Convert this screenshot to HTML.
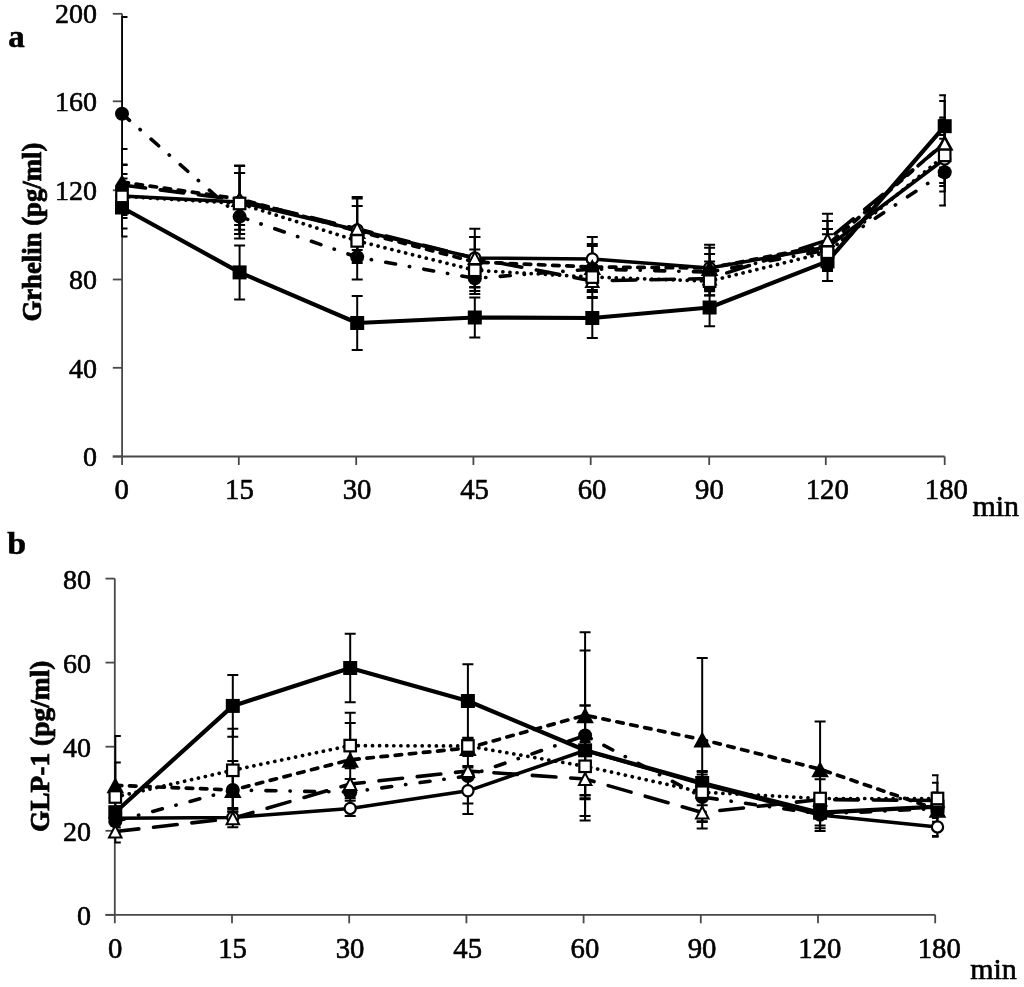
<!DOCTYPE html>
<html lang="en"><head><meta charset="utf-8"><title>Ghrelin and GLP-1 time course</title>
<style>html,body{margin:0;padding:0;background:#fff}body{width:1024px;height:987px;overflow:hidden}svg{display:block;filter:blur(0.45px)}.t{font-family:"Liberation Serif", "Times New Roman", serif;font-size:28px;fill:#000;stroke:#000;stroke-width:0.6px}.b{font-family:"Liberation Serif", "Times New Roman", serif;font-size:28px;font-weight:bold;fill:#000;stroke:#000;stroke-width:0.75px}.p{font-family:"Liberation Serif", "Times New Roman", serif;font-size:32px;font-weight:bold;fill:#000;stroke:#000;stroke-width:0.55px}</style></head><body>
<svg width="1024" height="987" viewBox="0 0 1024 987">
<rect width="1024" height="987" fill="#fff"/>
<path d="M122.1 13.7V465.0" stroke="#484848" stroke-width="1.8" fill="none"/>
<path d="M112.8 456.5H944.7" stroke="#484848" stroke-width="1.8" fill="none"/>
<path d="M238.8 456.5v8.5" stroke="#484848" stroke-width="1.8" fill="none"/>
<path d="M356.2 456.5v8.5" stroke="#484848" stroke-width="1.8" fill="none"/>
<path d="M473.4 456.5v8.5" stroke="#484848" stroke-width="1.8" fill="none"/>
<path d="M590.7 456.5v8.5" stroke="#484848" stroke-width="1.8" fill="none"/>
<path d="M709.2 456.5v8.5" stroke="#484848" stroke-width="1.8" fill="none"/>
<path d="M825.8 456.5v8.5" stroke="#484848" stroke-width="1.8" fill="none"/>
<path d="M944.7 456.5v8.5" stroke="#484848" stroke-width="1.8" fill="none"/>
<path d="M112.8 456.5H122.1" stroke="#484848" stroke-width="1.8" fill="none"/>
<text transform="translate(97.0 466.2) scale(1.0 1.0)" text-anchor="end" class="t">0</text>
<path d="M112.8 367.8H122.1" stroke="#484848" stroke-width="1.8" fill="none"/>
<text transform="translate(97.0 377.5) scale(1.0 1.0)" text-anchor="end" class="t">40</text>
<path d="M112.8 279.5H122.1" stroke="#484848" stroke-width="1.8" fill="none"/>
<text transform="translate(97.0 289.2) scale(1.0 1.0)" text-anchor="end" class="t">80</text>
<path d="M112.8 190.3H122.1" stroke="#484848" stroke-width="1.8" fill="none"/>
<text transform="translate(97.0 200.0) scale(1.0 1.0)" text-anchor="end" class="t">120</text>
<path d="M112.8 101.3H122.1" stroke="#484848" stroke-width="1.8" fill="none"/>
<text transform="translate(97.0 111.0) scale(1.0 1.0)" text-anchor="end" class="t">160</text>
<path d="M112.8 13.8H122.1" stroke="#484848" stroke-width="1.8" fill="none"/>
<text transform="translate(97.0 22.7) scale(1.0 1.0)" text-anchor="end" class="t">200</text>
<text transform="translate(121.8 499.1) scale(1.027 1.08)" text-anchor="middle" class="t">0</text>
<text transform="translate(239.4 499.1) scale(1.027 1.08)" text-anchor="middle" class="t">15</text>
<text transform="translate(357.0 499.1) scale(1.027 1.08)" text-anchor="middle" class="t">30</text>
<text transform="translate(474.6 499.1) scale(1.027 1.08)" text-anchor="middle" class="t">45</text>
<text transform="translate(592.1 499.1) scale(1.027 1.08)" text-anchor="middle" class="t">60</text>
<text transform="translate(709.4 499.1) scale(1.027 1.08)" text-anchor="middle" class="t">90</text>
<text transform="translate(827.3 499.1) scale(1.027 1.08)" text-anchor="middle" class="t">120</text>
<text transform="translate(946.4 499.1) scale(1.027 1.08)" text-anchor="middle" class="t">180</text>
<clipPath id="ca"><rect x="121.3" y="0" width="824.7" height="470"/></clipPath>
<g clip-path="url(#ca)" stroke="#000" stroke-width="2" fill="none">
<path d="M122.0 174.0V218.0M116.5 174.0h11M116.5 218.0h11"/>
<path d="M239.6 165.5V238.5M234.1 165.5h11M234.1 238.5h11"/>
<path d="M357.2 197.0V263.0M351.7 197.0h11M351.7 263.0h11"/>
<path d="M474.8 237.0V279.0M469.3 237.0h11M469.3 279.0h11"/>
<path d="M592.3 236.9V280.9M586.8 236.9h11M586.8 280.9h11"/>
<path d="M709.6 244.7V291.3M704.1 244.7h11M704.1 291.3h11"/>
<path d="M827.5 229.0V265.0M822.0 229.0h11M822.0 265.0h11"/>
<path d="M944.7 135.0V183.0M939.2 135.0h11M939.2 183.0h11"/>
<path d="M122.0 178.5V236.5M116.5 178.5h11M116.5 236.5h11"/>
<path d="M239.6 245.4V299.4M234.1 245.4h11M234.1 299.4h11"/>
<path d="M357.2 296.0V350.0M351.7 296.0h11M351.7 350.0h11"/>
<path d="M474.8 297.5V337.5M469.3 297.5h11M469.3 337.5h11"/>
<path d="M592.3 298.0V338.0M586.8 298.0h11M586.8 338.0h11"/>
<path d="M709.6 288.8V326.2M704.1 288.8h11M704.1 326.2h11"/>
<path d="M827.5 241.8V281.0M822.0 241.8h11M822.0 281.0h11"/>
<path d="M944.7 95.2V157.2M939.2 95.2h11M939.2 157.2h11"/>
<path d="M122.0 17.0V210.4M116.5 17.0h11M116.5 210.4h11"/>
<path d="M239.6 203.4V229.8M234.1 203.4h11M234.1 229.8h11"/>
<path d="M357.2 234.8V279.4M351.7 234.8h11M351.7 279.4h11"/>
<path d="M474.8 262.8V294.0M469.3 262.8h11M469.3 294.0h11"/>
<path d="M592.3 246.0V292.0M586.8 246.0h11M586.8 292.0h11"/>
<path d="M709.6 254.0V290.0M704.1 254.0h11M704.1 290.0h11"/>
<path d="M827.5 229.0V271.0M822.0 229.0h11M822.0 271.0h11"/>
<path d="M944.7 138.8V205.6M939.2 138.8h11M939.2 205.6h11"/>
<path d="M122.0 149.0V215.0M116.5 149.0h11M116.5 215.0h11"/>
<path d="M239.6 173.0V225.0M234.1 173.0h11M234.1 225.0h11"/>
<path d="M357.2 206.0V256.0M351.7 206.0h11M351.7 256.0h11"/>
<path d="M474.8 237.0V287.0M469.3 237.0h11M469.3 287.0h11"/>
<path d="M592.3 244.0V290.0M586.8 244.0h11M586.8 290.0h11"/>
<path d="M709.6 247.7V288.3M704.1 247.7h11M704.1 288.3h11"/>
<path d="M827.5 221.0V269.0M822.0 221.0h11M822.0 269.0h11"/>
<path d="M944.7 117.5V167.5M939.2 117.5h11M939.2 167.5h11"/>
<path d="M122.0 165.0V205.0M116.5 165.0h11M116.5 205.0h11"/>
<path d="M239.6 166.0V234.0M234.1 166.0h11M234.1 234.0h11"/>
<path d="M357.2 198.4V259.2M351.7 198.4h11M351.7 259.2h11"/>
<path d="M474.8 228.8V287.4M469.3 228.8h11M469.3 287.4h11"/>
<path d="M592.3 265.0V297.0M586.8 265.0h11M586.8 297.0h11"/>
<path d="M709.6 261.6V295.4M704.1 261.6h11M704.1 295.4h11"/>
<path d="M827.5 213.7V266.3M822.0 213.7h11M822.0 266.3h11"/>
<path d="M944.7 100.9V186.1M939.2 100.9h11M939.2 186.1h11"/>
<path d="M122.0 164.4V228.4M116.5 164.4h11M116.5 228.4h11"/>
<path d="M239.6 173.0V234.0M234.1 173.0h11M234.1 234.0h11"/>
<path d="M357.2 231.9V249.9M351.7 231.9h11M351.7 249.9h11"/>
<path d="M474.8 249.6V291.0M469.3 249.6h11M469.3 291.0h11"/>
<path d="M592.3 262.1V292.1M586.8 262.1h11M586.8 292.1h11"/>
<path d="M709.6 267.2V295.2M704.1 267.2h11M704.1 295.2h11"/>
<path d="M827.5 234.2V270.2M822.0 234.2h11M822.0 270.2h11"/>
<path d="M944.7 119.4V191.4M939.2 119.4h11M939.2 191.4h11"/>
</g>
<polyline points="122.0,196.0 239.6,202.0 357.2,230.0 474.8,258.0 592.3,258.9 709.6,268.0 827.5,247.0 944.7,159.0" fill="none" stroke="#000" stroke-width="3.5" stroke-linejoin="round" stroke-linecap="round"/>
<polyline points="122.0,207.5 239.6,272.4 357.2,323.0 474.8,317.5 592.3,318.0 709.6,307.5 827.5,261.4 944.7,126.2" fill="none" stroke="#000" stroke-width="4.2" stroke-linejoin="round" stroke-linecap="round"/>
<polyline points="122.0,113.7 239.6,216.6 357.2,257.1 474.8,278.4 592.3,269.0 709.6,272.0 827.5,250.0 944.7,172.2" fill="none" stroke="#000" stroke-width="3.6" stroke-linejoin="round" stroke-linecap="round" stroke-dasharray="10 14 0.3 14.4"/>
<polyline points="122.0,182.0 239.6,199.0 357.2,231.0 474.8,262.0 592.3,267.0 709.6,268.0 827.5,245.0 944.7,142.5" fill="none" stroke="#000" stroke-width="3.7" stroke-linejoin="round" stroke-linecap="round" stroke-dasharray="6.5 7.7"/>
<polyline points="122.0,185.0 239.6,200.0 357.2,228.8 474.8,258.1 592.3,281.0 709.6,278.5 827.5,240.0 944.7,143.5" fill="none" stroke="#000" stroke-width="3.6" stroke-linejoin="round" stroke-linecap="round" stroke-dasharray="23.7 14.8"/>
<polyline points="122.0,196.4 239.6,203.5 357.2,240.9 474.8,270.3 592.3,277.1 709.6,281.2 827.5,252.2 944.7,155.4" fill="none" stroke="#000" stroke-width="3.7" stroke-linejoin="round" stroke-linecap="round" stroke-dasharray="0.1 7.0"/>
<circle cx="122.0" cy="196.0" r="5.6" fill="#fff" stroke="#000" stroke-width="2.2"/>
<circle cx="239.6" cy="202.0" r="5.6" fill="#fff" stroke="#000" stroke-width="2.2"/>
<circle cx="357.2" cy="230.0" r="5.6" fill="#fff" stroke="#000" stroke-width="2.2"/>
<circle cx="474.8" cy="258.0" r="5.6" fill="#fff" stroke="#000" stroke-width="2.2"/>
<circle cx="592.3" cy="258.9" r="5.6" fill="#fff" stroke="#000" stroke-width="2.2"/>
<circle cx="709.6" cy="268.0" r="5.6" fill="#fff" stroke="#000" stroke-width="2.2"/>
<circle cx="827.5" cy="247.0" r="5.6" fill="#fff" stroke="#000" stroke-width="2.2"/>
<circle cx="944.7" cy="159.0" r="5.6" fill="#fff" stroke="#000" stroke-width="2.2"/>
<rect x="115.0" y="200.5" width="14" height="14" fill="#000"/>
<rect x="232.6" y="265.4" width="14" height="14" fill="#000"/>
<rect x="350.2" y="316.0" width="14" height="14" fill="#000"/>
<rect x="467.8" y="310.5" width="14" height="14" fill="#000"/>
<rect x="585.3" y="311.0" width="14" height="14" fill="#000"/>
<rect x="702.6" y="300.5" width="14" height="14" fill="#000"/>
<rect x="820.5" y="254.4" width="14" height="14" fill="#000"/>
<rect x="937.7" y="119.2" width="14" height="14" fill="#000"/>
<circle cx="122.0" cy="113.7" r="7" fill="#000"/>
<circle cx="239.6" cy="216.6" r="7" fill="#000"/>
<circle cx="357.2" cy="257.1" r="7" fill="#000"/>
<circle cx="474.8" cy="278.4" r="7" fill="#000"/>
<circle cx="592.3" cy="269.0" r="7" fill="#000"/>
<circle cx="709.6" cy="272.0" r="7" fill="#000"/>
<circle cx="827.5" cy="250.0" r="7" fill="#000"/>
<circle cx="944.7" cy="172.2" r="7" fill="#000"/>
<polygon points="239.6,191.0 248.4,207.0 230.8,207.0" fill="#000"/>
<polygon points="357.2,223.0 366.0,239.0 348.4,239.0" fill="#000"/>
<polygon points="474.8,254.0 483.6,270.0 466.0,270.0" fill="#000"/>
<polygon points="592.3,259.0 601.1,275.0 583.5,275.0" fill="#000"/>
<polygon points="709.6,260.0 718.4,276.0 700.8,276.0" fill="#000"/>
<polygon points="827.5,237.0 836.3,253.0 818.7,253.0" fill="#000"/>
<polygon points="944.7,134.5 953.5,150.5 935.9,150.5" fill="#000"/>
<polygon points="239.6,194.0 245.8,206.0 233.3,206.0" fill="#fff" stroke="#000" stroke-width="2" stroke-linejoin="miter"/>
<polygon points="357.2,222.8 363.4,234.8 350.9,234.8" fill="#fff" stroke="#000" stroke-width="2" stroke-linejoin="miter"/>
<polygon points="474.8,252.1 481.1,264.1 468.6,264.1" fill="#fff" stroke="#000" stroke-width="2" stroke-linejoin="miter"/>
<polygon points="592.3,275.0 598.5,287.0 586.0,287.0" fill="#fff" stroke="#000" stroke-width="2" stroke-linejoin="miter"/>
<polygon points="709.6,272.5 715.9,284.5 703.4,284.5" fill="#fff" stroke="#000" stroke-width="2" stroke-linejoin="miter"/>
<polygon points="827.5,234.0 833.8,246.0 821.2,246.0" fill="#fff" stroke="#000" stroke-width="2" stroke-linejoin="miter"/>
<polygon points="944.7,137.5 951.0,149.5 938.5,149.5" fill="#fff" stroke="#000" stroke-width="2" stroke-linejoin="miter"/>
<rect x="116.25" y="190.65" width="11.5" height="11.5" fill="#fff" stroke="#000" stroke-width="2.2"/>
<rect x="233.85" y="197.75" width="11.5" height="11.5" fill="#fff" stroke="#000" stroke-width="2.2"/>
<rect x="351.45" y="235.15" width="11.5" height="11.5" fill="#fff" stroke="#000" stroke-width="2.2"/>
<rect x="469.05" y="264.55" width="11.5" height="11.5" fill="#fff" stroke="#000" stroke-width="2.2"/>
<rect x="586.55" y="271.35" width="11.5" height="11.5" fill="#fff" stroke="#000" stroke-width="2.2"/>
<rect x="703.85" y="275.45" width="11.5" height="11.5" fill="#fff" stroke="#000" stroke-width="2.2"/>
<rect x="821.75" y="246.45" width="11.5" height="11.5" fill="#fff" stroke="#000" stroke-width="2.2"/>
<rect x="938.95" y="149.65" width="11.5" height="11.5" fill="#fff" stroke="#000" stroke-width="2.2"/>
<polygon points="122,174.4 128.9,185.4 128.9,190 115.1,190 115.1,185.4" fill="#000"/>
<text transform="translate(8.3 46.8) scale(1.03 1.0)" text-anchor="start" class="p">a</text>
<text transform="translate(41.3 232.1) rotate(-90) scale(0.955 0.99)" text-anchor="middle" class="b">Grhelin (pg/ml)</text>
<text transform="translate(972.5 515.8) scale(1.07 1.065)" text-anchor="start" class="t">min</text>
<path d="M114.8 578.6V923.3" stroke="#484848" stroke-width="1.8" fill="none"/>
<path d="M105.5 914.8H935.2" stroke="#484848" stroke-width="1.8" fill="none"/>
<path d="M232.0 914.8v8.5" stroke="#484848" stroke-width="1.8" fill="none"/>
<path d="M349.2 914.8v8.5" stroke="#484848" stroke-width="1.8" fill="none"/>
<path d="M466.4 914.8v8.5" stroke="#484848" stroke-width="1.8" fill="none"/>
<path d="M583.6 914.8v8.5" stroke="#484848" stroke-width="1.8" fill="none"/>
<path d="M700.8 914.8v8.5" stroke="#484848" stroke-width="1.8" fill="none"/>
<path d="M818.0 914.8v8.5" stroke="#484848" stroke-width="1.8" fill="none"/>
<path d="M935.2 914.8v8.5" stroke="#484848" stroke-width="1.8" fill="none"/>
<path d="M105.5 914.8H114.8" stroke="#484848" stroke-width="1.8" fill="none"/>
<text transform="translate(91.0 925.2) scale(1.0 1.0)" text-anchor="end" class="t">0</text>
<path d="M105.5 830.8H114.8" stroke="#484848" stroke-width="1.8" fill="none"/>
<text transform="translate(91.0 841.1) scale(1.0 1.0)" text-anchor="end" class="t">20</text>
<path d="M105.5 746.7H114.8" stroke="#484848" stroke-width="1.8" fill="none"/>
<text transform="translate(91.0 757.1) scale(1.0 1.0)" text-anchor="end" class="t">40</text>
<path d="M105.5 662.6H114.8" stroke="#484848" stroke-width="1.8" fill="none"/>
<text transform="translate(91.0 673.0) scale(1.0 1.0)" text-anchor="end" class="t">60</text>
<path d="M105.5 578.6H114.8" stroke="#484848" stroke-width="1.8" fill="none"/>
<text transform="translate(91.0 589.0) scale(1.0 1.0)" text-anchor="end" class="t">80</text>
<text transform="translate(115.1 957.6) scale(1.027 1.08)" text-anchor="middle" class="t">0</text>
<text transform="translate(232.6 957.6) scale(1.027 1.08)" text-anchor="middle" class="t">15</text>
<text transform="translate(350.0 957.6) scale(1.027 1.08)" text-anchor="middle" class="t">30</text>
<text transform="translate(467.7 957.6) scale(1.027 1.08)" text-anchor="middle" class="t">45</text>
<text transform="translate(584.9 957.6) scale(1.027 1.08)" text-anchor="middle" class="t">60</text>
<text transform="translate(702.0 957.6) scale(1.027 1.08)" text-anchor="middle" class="t">90</text>
<text transform="translate(819.9 957.6) scale(1.027 1.08)" text-anchor="middle" class="t">120</text>
<text transform="translate(939.2 957.6) scale(1.027 1.08)" text-anchor="middle" class="t">180</text>
<clipPath id="cb"><rect x="114.3" y="560" width="824.3000000000001" height="370"/></clipPath>
<g clip-path="url(#cb)" stroke="#000" stroke-width="2" fill="none">
<path d="M115.3 813.3V823.3M109.8 813.3h11M109.8 823.3h11"/>
<path d="M232.8 811.5V823.5M227.3 811.5h11M227.3 823.5h11"/>
<path d="M350.2 800.7V816.1M344.7 800.7h11M344.7 816.1h11"/>
<path d="M467.9 767.5V814.1M462.4 767.5h11M462.4 814.1h11"/>
<path d="M585.1 705.5V795.5M579.6 705.5h11M579.6 795.5h11"/>
<path d="M702.2 774.4V793.6M696.7 774.4h11M696.7 793.6h11"/>
<path d="M820.1 801.7V828.3M814.6 801.7h11M814.6 828.3h11"/>
<path d="M937.5 817.9V835.9M932.0 817.9h11M932.0 835.9h11"/>
<path d="M115.3 806.2V818.2M109.8 806.2h11M109.8 818.2h11"/>
<path d="M232.8 675.1V736.7M227.3 675.1h11M227.3 736.7h11"/>
<path d="M350.2 633.7V702.3M344.7 633.7h11M344.7 702.3h11"/>
<path d="M467.9 664.2V737.8M462.4 664.2h11M462.4 737.8h11"/>
<path d="M585.1 705.5V795.1M579.6 705.5h11M579.6 795.1h11"/>
<path d="M702.2 771.0V795.0M696.7 771.0h11M696.7 795.0h11"/>
<path d="M820.1 799.9V825.5M814.6 799.9h11M814.6 825.5h11"/>
<path d="M937.5 798.6V814.6M932.0 798.6h11M932.0 814.6h11"/>
<path d="M115.3 815.4V827.4M109.8 815.4h11M109.8 827.4h11"/>
<path d="M232.8 772.0V808.0M227.3 772.0h11M227.3 808.0h11"/>
<path d="M350.2 786.2V798.2M344.7 786.2h11M344.7 798.2h11"/>
<path d="M467.9 748.6V803.4M462.4 748.6h11M462.4 803.4h11"/>
<path d="M585.1 650.5V820.5M579.6 650.5h11M579.6 820.5h11"/>
<path d="M702.2 772.0V822.0M696.7 772.0h11M696.7 822.0h11"/>
<path d="M820.1 797.0V831.0M814.6 797.0h11M814.6 831.0h11"/>
<path d="M937.5 800.5V816.5M932.0 800.5h11M932.0 816.5h11"/>
<path d="M115.3 736.0V834.6M109.8 736.0h11M109.8 834.6h11"/>
<path d="M232.8 761.0V819.0M227.3 761.0h11M227.3 819.0h11"/>
<path d="M350.2 712.8V806.8M344.7 712.8h11M344.7 806.8h11"/>
<path d="M467.9 740.0V756.0M462.4 740.0h11M462.4 756.0h11"/>
<path d="M585.1 632.2V798.2M579.6 632.2h11M579.6 798.2h11"/>
<path d="M702.2 657.9V821.3M696.7 657.9h11M696.7 821.3h11"/>
<path d="M820.1 721.5V816.9M814.6 721.5h11M814.6 816.9h11"/>
<path d="M937.5 782.7V836.7M932.0 782.7h11M932.0 836.7h11"/>
<path d="M115.3 820.5V842.5M109.8 820.5h11M109.8 842.5h11"/>
<path d="M232.8 809.3V827.3M227.3 809.3h11M227.3 827.3h11"/>
<path d="M350.2 779.0V789.0M344.7 779.0h11M344.7 789.0h11"/>
<path d="M467.9 766.0V776.0M462.4 766.0h11M462.4 776.0h11"/>
<path d="M585.1 742.0V816.0M579.6 742.0h11M579.6 816.0h11"/>
<path d="M702.2 796.5V828.5M696.7 796.5h11M696.7 828.5h11"/>
<path d="M820.1 793.5V805.5M814.6 793.5h11M814.6 805.5h11"/>
<path d="M937.5 792.5V808.5M932.0 792.5h11M932.0 808.5h11"/>
<path d="M115.3 762.5V831.5M109.8 762.5h11M109.8 831.5h11"/>
<path d="M232.8 728.8V811.8M227.3 728.8h11M227.3 811.8h11"/>
<path d="M350.2 723.0V768.2M344.7 723.0h11M344.7 768.2h11"/>
<path d="M467.9 738.0V754.0M462.4 738.0h11M462.4 754.0h11"/>
<path d="M585.1 733.3V799.3M579.6 733.3h11M579.6 799.3h11"/>
<path d="M702.2 779.2V805.2M696.7 779.2h11M696.7 805.2h11"/>
<path d="M820.1 779.3V817.7M814.6 779.3h11M814.6 817.7h11"/>
<path d="M937.5 775.2V821.8M932.0 775.2h11M932.0 821.8h11"/>
</g>
<polyline points="115.3,818.3 232.8,817.5 350.2,808.4 467.9,790.8 585.1,750.5 702.2,784.0 820.1,815.0 937.5,826.9" fill="none" stroke="#000" stroke-width="3.5" stroke-linejoin="round" stroke-linecap="round"/>
<polyline points="115.3,812.2 232.8,705.9 350.2,668.0 467.9,701.0 585.1,750.3 702.2,783.0 820.1,812.7 937.5,806.6" fill="none" stroke="#000" stroke-width="4.2" stroke-linejoin="round" stroke-linecap="round"/>
<polyline points="115.3,821.4 232.8,790.0 350.2,792.2 467.9,776.0 585.1,735.5 702.2,797.0 820.1,814.0 937.5,808.5" fill="none" stroke="#000" stroke-width="3.6" stroke-linejoin="round" stroke-linecap="round" stroke-dasharray="10 14 0.3 14.4"/>
<polyline points="115.3,785.3 232.8,790.0 350.2,759.8 467.9,748.0 585.1,715.2 702.2,739.6 820.1,769.2 937.5,809.7" fill="none" stroke="#000" stroke-width="3.7" stroke-linejoin="round" stroke-linecap="round" stroke-dasharray="6.5 7.7"/>
<polyline points="115.3,831.5 232.8,818.3 350.2,784.0 467.9,771.0 585.1,779.0 702.2,812.5 820.1,799.5 937.5,800.5" fill="none" stroke="#000" stroke-width="3.6" stroke-linejoin="round" stroke-linecap="round" stroke-dasharray="23.7 14.8"/>
<polyline points="115.3,797.0 232.8,770.3 350.2,745.6 467.9,746.0 585.1,766.3 702.2,792.2 820.1,798.5 937.5,798.5" fill="none" stroke="#000" stroke-width="3.7" stroke-linejoin="round" stroke-linecap="round" stroke-dasharray="0.1 7.0"/>
<circle cx="115.3" cy="818.3" r="5.6" fill="#fff" stroke="#000" stroke-width="2.2"/>
<circle cx="232.8" cy="817.5" r="5.6" fill="#fff" stroke="#000" stroke-width="2.2"/>
<circle cx="350.2" cy="808.4" r="5.6" fill="#fff" stroke="#000" stroke-width="2.2"/>
<circle cx="467.9" cy="790.8" r="5.6" fill="#fff" stroke="#000" stroke-width="2.2"/>
<circle cx="585.1" cy="750.5" r="5.6" fill="#fff" stroke="#000" stroke-width="2.2"/>
<circle cx="702.2" cy="784.0" r="5.6" fill="#fff" stroke="#000" stroke-width="2.2"/>
<circle cx="820.1" cy="815.0" r="5.6" fill="#fff" stroke="#000" stroke-width="2.2"/>
<circle cx="937.5" cy="826.9" r="5.6" fill="#fff" stroke="#000" stroke-width="2.2"/>
<rect x="108.3" y="805.2" width="14" height="14" fill="#000"/>
<rect x="225.8" y="698.9" width="14" height="14" fill="#000"/>
<rect x="343.2" y="661.0" width="14" height="14" fill="#000"/>
<rect x="460.9" y="694.0" width="14" height="14" fill="#000"/>
<rect x="578.1" y="743.3" width="14" height="14" fill="#000"/>
<rect x="695.2" y="776.0" width="14" height="14" fill="#000"/>
<rect x="813.1" y="805.7" width="14" height="14" fill="#000"/>
<rect x="930.5" y="799.6" width="14" height="14" fill="#000"/>
<circle cx="115.3" cy="821.4" r="7" fill="#000"/>
<circle cx="232.8" cy="790.0" r="7" fill="#000"/>
<circle cx="350.2" cy="792.2" r="7" fill="#000"/>
<circle cx="467.9" cy="776.0" r="7" fill="#000"/>
<circle cx="585.1" cy="735.5" r="7" fill="#000"/>
<circle cx="702.2" cy="797.0" r="7" fill="#000"/>
<circle cx="820.1" cy="814.0" r="7" fill="#000"/>
<circle cx="937.5" cy="808.5" r="7" fill="#000"/>
<polygon points="115.3,777.3 124.1,793.3 106.5,793.3" fill="#000"/>
<polygon points="232.8,782.0 241.6,798.0 224.0,798.0" fill="#000"/>
<polygon points="350.2,751.8 359.0,767.8 341.4,767.8" fill="#000"/>
<polygon points="467.9,740.0 476.7,756.0 459.1,756.0" fill="#000"/>
<polygon points="585.1,707.2 593.9,723.2 576.3,723.2" fill="#000"/>
<polygon points="702.2,731.6 711.0,747.6 693.4,747.6" fill="#000"/>
<polygon points="820.1,761.2 828.9,777.2 811.3,777.2" fill="#000"/>
<polygon points="937.5,801.7 946.3,817.7 928.7,817.7" fill="#000"/>
<polygon points="115.3,825.5 121.5,837.5 109.0,837.5" fill="#fff" stroke="#000" stroke-width="2" stroke-linejoin="miter"/>
<polygon points="232.8,812.3 239.1,824.3 226.6,824.3" fill="#fff" stroke="#000" stroke-width="2" stroke-linejoin="miter"/>
<polygon points="350.2,778.0 356.4,790.0 343.9,790.0" fill="#fff" stroke="#000" stroke-width="2" stroke-linejoin="miter"/>
<polygon points="467.9,765.0 474.1,777.0 461.6,777.0" fill="#fff" stroke="#000" stroke-width="2" stroke-linejoin="miter"/>
<polygon points="585.1,773.0 591.4,785.0 578.9,785.0" fill="#fff" stroke="#000" stroke-width="2" stroke-linejoin="miter"/>
<polygon points="702.2,806.5 708.5,818.5 696.0,818.5" fill="#fff" stroke="#000" stroke-width="2" stroke-linejoin="miter"/>
<polygon points="820.1,793.5 826.4,805.5 813.9,805.5" fill="#fff" stroke="#000" stroke-width="2" stroke-linejoin="miter"/>
<polygon points="937.5,794.5 943.8,806.5 931.2,806.5" fill="#fff" stroke="#000" stroke-width="2" stroke-linejoin="miter"/>
<rect x="109.55" y="791.25" width="11.5" height="11.5" fill="#fff" stroke="#000" stroke-width="2.2"/>
<rect x="227.05" y="764.55" width="11.5" height="11.5" fill="#fff" stroke="#000" stroke-width="2.2"/>
<rect x="344.45" y="739.85" width="11.5" height="11.5" fill="#fff" stroke="#000" stroke-width="2.2"/>
<rect x="462.15" y="740.25" width="11.5" height="11.5" fill="#fff" stroke="#000" stroke-width="2.2"/>
<rect x="579.35" y="760.55" width="11.5" height="11.5" fill="#fff" stroke="#000" stroke-width="2.2"/>
<rect x="696.45" y="786.45" width="11.5" height="11.5" fill="#fff" stroke="#000" stroke-width="2.2"/>
<rect x="814.35" y="792.75" width="11.5" height="11.5" fill="#fff" stroke="#000" stroke-width="2.2"/>
<rect x="931.75" y="792.75" width="11.5" height="11.5" fill="#fff" stroke="#000" stroke-width="2.2"/>
<text transform="translate(7.3 554.0) scale(1.06 1.0)" text-anchor="start" class="p">b</text>
<text transform="translate(48.6 746.3) rotate(-90) scale(0.98 0.99)" text-anchor="middle" class="b">GLP-1 (pg/ml)</text>
<text transform="translate(970.2 978.6) scale(1.07 1.065)" text-anchor="start" class="t">min</text>
</svg></body></html>
